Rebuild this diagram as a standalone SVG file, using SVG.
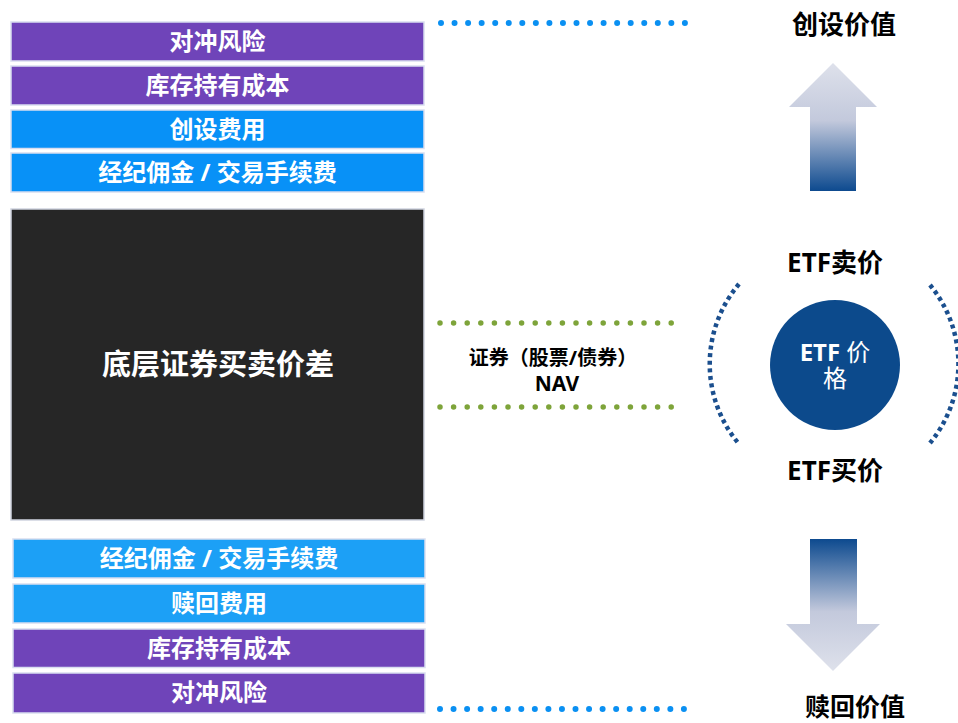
<svg xmlns="http://www.w3.org/2000/svg" width="958" height="723" viewBox="0 0 958 723">
<style>
.box{stroke:#D9DEF0;stroke-width:1.5}
.pur{fill:#6F44B9}
.blu{fill:#0891F7}
.blu2{fill:#1CA0F6}
.bt{font-family:"Noto Sans","Noto Sans CJK SC",sans-serif;font-weight:bold;fill:#fff;font-size:24px;text-anchor:middle}
.lbl{font-family:"Noto Sans","Noto Sans CJK SC",sans-serif;font-weight:bold;fill:#000;text-anchor:middle}
.dotb{stroke:#0A90F2;stroke-width:6;stroke-linecap:round;stroke-dasharray:0 13.55;fill:none}
.dotg{stroke:#7EA43A;stroke-width:5.5;stroke-linecap:round;stroke-dasharray:0 13.6;fill:none}
.arc{stroke:#1B4F8E;stroke-width:4.5;stroke-dasharray:4 3.6;fill:none}
</style>
<defs>
<linearGradient id="gUp" x1="0" y1="0" x2="0" y2="1">
<stop offset="0" stop-color="#DEE1EB"/>
<stop offset="0.45" stop-color="#C3C9DC"/>
<stop offset="1" stop-color="#0D4A8F"/>
</linearGradient>
<linearGradient id="gDn" x1="0" y1="0" x2="0" y2="1">
<stop offset="0" stop-color="#0D4A8F"/>
<stop offset="0.55" stop-color="#C3C9DC"/>
<stop offset="1" stop-color="#DEE1EB"/>
</linearGradient>
</defs>
<rect width="958" height="723" fill="#fff"/>

<g id="top-hedge"><rect class="box pur" x="11" y="22" width="413" height="39"/><text class="bt" x="217.5" y="50">对冲风险</text></g>
<g id="top-inventory"><rect class="box pur" x="11" y="66" width="413" height="39"/><text class="bt" x="217.5" y="94">库存持有成本</text></g>
<g id="top-creation-fee"><rect class="box blu" x="11" y="110" width="413" height="38.5"/><text class="bt" x="217.5" y="138">创设费用</text></g>
<g id="top-brokerage"><rect class="box blu" x="11" y="153" width="413" height="39"/><text class="bt" x="217.5" y="181">经纪佣金 / 交易手续费</text></g>

<g id="spread"><rect x="11" y="209" width="413" height="311" fill="#262626" stroke="#D0D4E0" stroke-width="1.5"/><text class="bt" x="218" y="375" style="font-size:29px">底层证券买卖价差</text></g>

<g id="bot-brokerage"><rect class="box blu2" x="13" y="539" width="412" height="39"/><text class="bt" x="219" y="567">经纪佣金 / 交易手续费</text></g>
<g id="bot-redemption-fee"><rect class="box blu2" x="13" y="584" width="412" height="39"/><text class="bt" x="219" y="612">赎回费用</text></g>
<g id="bot-inventory"><rect class="box pur" x="13" y="629" width="412" height="38.5"/><text class="bt" x="219" y="657">库存持有成本</text></g>
<g id="bot-hedge"><rect class="box pur" x="13" y="673" width="412" height="40"/><text class="bt" x="219" y="701">对冲风险</text></g>

<g id="connectors">
<line class="dotb" x1="441" y1="23" x2="686.5" y2="23"/>
<line class="dotb" x1="440" y1="709" x2="685.5" y2="709"/>
<line class="dotg" x1="440" y1="323" x2="672.5" y2="323"/>
<line class="dotg" x1="440" y1="407" x2="672.5" y2="407"/>
</g>

<g id="nav-label">
<text class="lbl" x="553" y="365" style="font-size:20px">证券（股票/债券）</text>
<text class="lbl" x="557" y="391" style="font-size:21px">NAV</text>
</g>

<g id="create-value">
<text class="lbl" x="844" y="34" style="font-size:26px">创设价值</text>
<path d="M833,63 L877,107 L856,107 L856,191 L810,191 L810,107 L789,107 Z" fill="url(#gUp)"/>
</g>

<g id="etf-price">
<path class="arc" d="M739,284 A124,124 0 0 0 739,444"/>
<path class="arc" d="M930,285 A124,124 0 0 1 930,443"/>
<circle cx="835" cy="365" r="65" fill="#0C4A8C"/>
<text x="835" y="361" text-anchor="middle" font-family="'Noto Sans','Noto Sans CJK SC',sans-serif" font-size="24" fill="#fff"><tspan font-weight="bold">ETF</tspan> 价<tspan x="835" dy="26">格</tspan></text>
<text class="lbl" x="835" y="272" style="font-size:26px">ETF卖价</text>
<text class="lbl" x="835" y="480" style="font-size:26px">ETF买价</text>
</g>

<g id="redeem-value">
<path d="M810,539 L857,539 L857,624 L880,624 L833,671 L786,624 L810,624 Z" fill="url(#gDn)"/>
<text class="lbl" x="855" y="716" style="font-size:25px">赎回价值</text>
</g>
</svg>
